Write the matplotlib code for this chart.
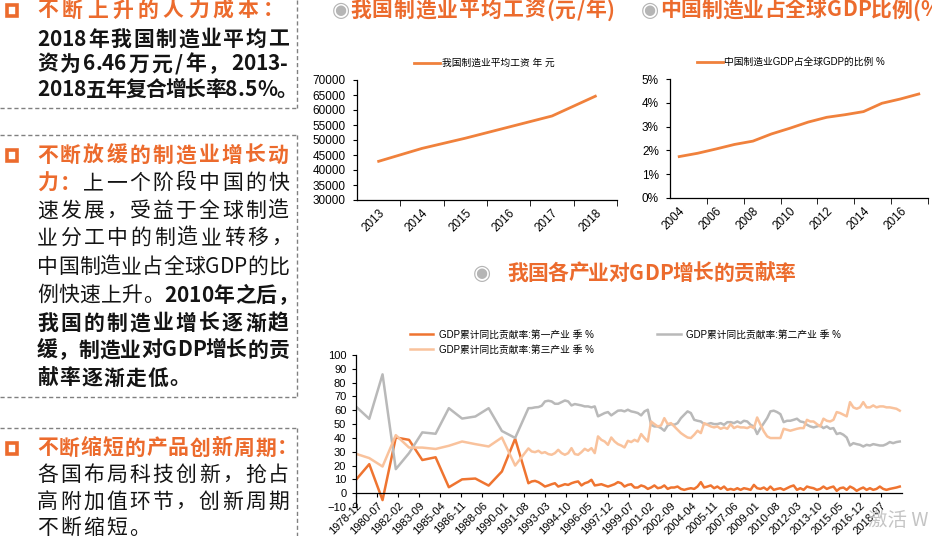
import datetime as dt
import matplotlib.pyplot as plt
from matplotlib.lines import Line2D
from matplotlib.patches import Rectangle

W, H = 932, 536
CJK = 'Noto Sans CJK SC'
plt.rcParams['font.family'] = ['Liberation Sans', CJK, 'DejaVu Sans']

ORANGE = '#EC6B2D'
LINE_ORANGE = '#F0813C'
DARK_ORANGE = '#EF7430'
GRAY = '#B9B9B9'
LIGHT = '#F9C29C'
TEXT = '#141414'

# ---- chart 1: average manufacturing wage (yuan / year)
wage_years = ['2013', '2014', '2015', '2016', '2017', '2018']
wage_values = [42900, 47200, 50600, 54300, 58000, 64600]

# ---- chart 2: China manufacturing share of global GDP (%)
share_years = ['2004', '2005', '2006', '2007', '2008', '2009', '2010',
               '2011', '2012', '2013', '2014', '2015', '2016', '2017']
share_values = [1.74, 1.88, 2.06, 2.25, 2.39, 2.69, 2.93,
                3.19, 3.39, 3.50, 3.63, 3.98, 4.16, 4.37]

# ---- chart 3: contribution to GDP growth by industry (%)
# annual values 1978-1991, then quarterly values 1992Q1-2019Q4
annual_years = list(range(1978, 1992))
primary_annual = [9.7, 21.0, -5.0, 40.3, 38.6, 24.0, 26.0, 4.3, 10.0, 10.6, 5.5, 15.7, 39.4, 7.2]
secondary_annual = [62.7, 53.8, 86.0, 17.4, 29.0, 44.0, 43.0, 61.5, 54.0, 55.5, 61.5, 45.0, 40.0, 61.5]
tertiary_annual = [28.5, 25.4, 19.3, 42.0, 33.0, 33.0, 32.0, 34.3, 37.4, 35.5, 33.8, 40.3, 20.0, 32.4]

primary_q = [
    8.5, 8.9, 8.0, 6.5, 4.8, 5.6, 6.5, 7.2, 4.8, 5.6, 6.5, 6.0, 7.2, 8.0, 8.5, 5.6,
    7.2, 8.0, 9.7, 5.6, 6.0, 6.5, 5.6, 4.8, 5.6, 6.5, 8.0,
    7.2, 4.8, 6.0, 6.5, 4.1, 4.1, 5.6, 4.8, 3.1, 4.1, 5.6, 3.6, 4.1, 5.6, 3.1, 4.1,
    4.1, 4.8, 3.1, 2.4, 3.1, 3.6, 3.1, 4.8, 8.0, 4.1, 4.8, 5.6, 3.6, 4.8,
    3.1, 4.8, 2.4, 3.1, 2.4, 3.6, 2.4, 3.6, 3.1, 2.4, 6.0, 3.6, 3.1, 4.1, 2.4, 4.8,
    2.4, 3.1, 3.6, 2.4, 3.6, 4.8, 5.6, 2.4, 3.6, 2.4, 4.8, 4.1,
    3.6, 2.4, 3.1, 4.8, 3.1, 4.1, 4.8, 1.7, 3.6, 4.1, 2.4, 4.8, 3.6, 1.7, 3.1, 4.1,
    2.4, 3.6, 2.4, 3.1, 4.8, 3.1, 2.4, 3.1, 3.6, 4.1, 4.8]
secondary_q = [
    61.6, 62.1, 62.3, 63.3, 66.4, 66.9, 66.4, 64.7, 64.7, 65.9, 67.1, 66.4, 63.5, 64.5,
    64.0, 63.5, 62.8, 62.8, 62.1, 62.8, 55.6, 56.8, 58.0, 58.7, 56.3, 58.0, 59.7,
    59.9, 59.2, 60.4, 59.2, 58.7, 58.0, 56.3, 59.2, 60.4, 49.5, 48.3, 48.3, 47.1, 45.2,
    49.0, 50.0, 49.5, 50.7, 54.3, 56.8, 59.2, 58.0, 53.1, 52.4, 51.9, 50.0, 50.0, 50.7,
    50.0, 50.0,
    50.7, 49.5, 51.4, 51.4, 50.7, 51.9, 50.7, 52.4, 51.9, 49.5, 48.3, 42.8, 47.1, 50.7,
    54.3, 59.2, 59.7, 58.7, 57.2, 51.4, 52.4, 52.4, 53.1, 53.9, 51.9, 51.4, 49.5, 48.3,
    47.6, 48.3, 49.0, 47.1, 48.3, 46.6, 47.1, 42.8, 43.5, 42.3, 40.3, 34.5, 36.2, 35.5,
    35.0, 33.8, 35.0, 34.5, 35.5, 35.0, 34.5, 34.5, 35.5, 37.0, 36.2, 37.0, 37.4]
tertiary_q = [
    30.2, 29.7, 30.7, 29.0, 29.7, 28.3, 27.8, 29.0, 31.4, 29.0, 27.8, 29.0, 32.6, 28.3,
    27.8, 29.7, 32.1, 30.7, 32.6, 29.0, 41.1, 38.6, 37.4, 35.0, 40.3, 37.4, 35.5,
    34.5, 33.1, 37.9, 37.0, 38.6, 37.4, 42.8, 39.9, 37.4, 51.9, 50.0, 48.3, 49.0, 54.3,
    50.0, 50.7, 48.3, 45.9, 43.5, 41.8, 40.3, 39.9, 42.3, 45.2, 43.5, 50.7, 49.5, 48.3,
    47.6, 48.3,
    46.6, 47.6, 46.6, 50.0, 47.1, 48.3, 47.6, 47.6, 47.1, 48.3, 47.1, 54.8, 49.5, 44.7,
    41.1, 39.9, 39.9, 39.9, 39.9, 46.6, 45.9, 45.2, 45.9, 46.6, 47.1, 47.1, 53.1, 51.9,
    51.9, 50.0, 48.3, 53.9, 52.4, 51.9, 53.1, 58.7, 58.0, 56.8, 55.6, 65.9, 62.1, 61.1,
    62.1, 65.9, 62.1, 62.1, 63.5, 62.1, 62.8, 62.8, 62.1, 62.1, 61.6, 61.1, 59.7]
quarter_years = list(range(1992, 2020))

gdp_tick_labels = ['1978-12', '1980-07', '1982-02', '1983-09', '1985-04', '1986-11',
                   '1988-06', '1990-01', '1991-08', '1993-03', '1994-10', '1996-05',
                   '1997-12', '1999-07', '2001-02', '2002-09', '2004-04', '2005-11',
                   '2007-06', '2009-01', '2010-08', '2012-03', '2013-10', '2015-05',
                   '2016-12', '2018-07']

# ---- left text panel: (y, [(text, colour, weight)], right edge)
panel_lines = [
    (10, [('不断上升的人力成本：', 'o', 'bold')], 284),
    (39, [('2018年我国制造业平均工', 'k', 'bold')], 289),
    (64, [('资为6.46万元/年，2013-', 'k', 'bold')], 288),
    (90, [('2018五年复合增长率8.5%。', 'k', 'bold')], 297),
    (155, [('不断放缓的制造业增长动', 'o', 'bold')], 289),
    (183, [('力：', 'o', 'bold'), ('上一个阶段中国的快', 'k', 'normal')], 289),
    (211, [('速发展，受益于全球制造', 'k', 'normal')], 289),
    (238, [('业分工中的制造业转移，', 'k', 'normal')], 292),
    (267, [('中国制造业占全球GDP的比', 'k', 'normal')], 289),
    (295, [('例快速上升。', 'k', 'normal'), ('2010年之后，', 'k', 'bold')], 298),
    (323, [('我国的制造业增长逐渐趋', 'k', 'bold')], 289),
    (350, [('缓，制造业对GDP增长的贡', 'k', 'bold')], 289),
    (378, [('献率逐渐走低。', 'k', 'bold')], 190),
    (448, [('不断缩短的产品创新周期：', 'o', 'bold')], 298),
    (475, [('各国布局科技创新，抢占', 'k', 'normal')], 289),
    (502, [('高附加值环节，创新周期', 'k', 'normal')], 289),
    (528, [('不断缩短。', 'k', 'normal')], 150),
]
bullet_rows = [10, 155, 448]


def fx(x):
    return x / W


def fy(y):
    return 1 - y / H


fig = plt.figure(figsize=(W / 100, H / 100), dpi=100)
renderer = fig.canvas.get_renderer()
width_cache = {}


def char_width(ch, weight, size):
    key = (ch, weight, size)
    if key not in width_cache:
        t = fig.text(0, 0, ch, fontsize=size, family=CJK, weight=weight)
        width_cache[key] = t.get_window_extent(renderer=renderer).width
        t.remove()
    return width_cache[key]


def draw_line(y, segments, x0, right, size=15):
    colours = {'o': ORANGE, 'k': TEXT}
    chars = [(c, colours.get(col, col), wt) for text, col, wt in segments for c in text]
    widths = [char_width(c, wt, size) for c, _, wt in chars]
    wide = [ord(c) > 0x2000 for c, _, _ in chars]
    gaps = [wide[i] or wide[i + 1] for i in range(len(chars) - 1)]
    extra = (right - x0 - sum(widths)) / max(sum(gaps), 1)
    x = x0
    for i, ((c, col, wt), w) in enumerate(zip(chars, widths)):
        fig.text(fx(x), fy(y), c, color=col, fontsize=size, family=CJK,
                 weight=wt, ha='left', va='center')
        x += w
        if i < len(gaps) and gaps[i]:
            x += extra


# left panel text
for y, segs, right in panel_lines:
    draw_line(y, segs, 37, right)
for y in bullet_rows:
    fig.add_artist(Rectangle((fx(6.5), fy(y + 5.5)), 10.5 / W, 10.5 / H,
                             transform=fig.transFigure, facecolor='white',
                             edgecolor=ORANGE, lw=2.6))


def dashed(x0, y0, x1, y1):
    fig.add_artist(Line2D([fx(x0), fx(x1)], [fy(y0), fy(y1)], transform=fig.transFigure,
                          color='#808080', lw=1, linestyle=(0, (3, 2))))


dashed(0, 108, 297, 108)
dashed(297, 0, 297, 108)
dashed(0, 135, 297, 135)
dashed(297, 135, 297, 397)
dashed(0, 397, 297, 397)
dashed(0, 428, 297, 428)
dashed(297, 428, 297, 536)

# chart titles
for cx, cy, x0, right, title in [(341, 10, 350, 615, '我国制造业平均工资(元/年)'),
                                 (650, 10, 660, 948, '中国制造业占全球GDP比例(%)'),
                                 (482, 273, 507, 795, '我国各产业对GDP增长的贡献率')]:
    fig.text(fx(cx), fy(cy), '◉', family='DejaVu Sans', fontsize=15, color='#B5B5B5',
             ha='center', va='center')
    draw_line(cy, [(title, 'o', 'bold')], x0, right)


def add_axes(left, top, right, bottom):
    ax = fig.add_axes([fx(left), fy(bottom), (right - left) / W, (bottom - top) / H])
    for side in ['top', 'right']:
        ax.spines[side].set_visible(False)
    for side in ['left', 'bottom']:
        ax.spines[side].set_linewidth(0.9)
    return ax


def category_axis(ax, labels, step):
    pos = list(range(len(labels)))
    ax.set_xlim(-0.5, len(labels) - 0.5)
    ax.set_xticks(pos[::step])
    ax.set_xticklabels(labels[::step], rotation=45, ha='right', va='top',
                       rotation_mode='anchor', fontsize=8.5)
    ax.tick_params(axis='x', which='major', length=0, pad=5)
    ax.set_xticks([p + step - 0.5 for p in pos[::step]], minor=True)
    ax.tick_params(axis='x', which='minor', length=4, direction='out')
    ax.tick_params(axis='y', length=3, labelsize=8.5, pad=5)
    return pos


# chart 1
ax1 = add_axes(357, 80, 617, 200)
pos = category_axis(ax1, wage_years, 1)
ax1.plot(pos, wage_values, color=LINE_ORANGE, lw=2, label='我国制造业平均工资 年 元')
ax1.set_ylim(30000, 70000)
ax1.set_yticks(range(30000, 70001, 5000))
ax1.legend(loc='center', bbox_to_anchor=(0.49, 1.14), frameon=False, fontsize=7,
           handlelength=2.6, handletextpad=0.2, borderpad=0)

# chart 2
ax2 = add_axes(670, 79, 928, 198)
pos = category_axis(ax2, share_years, 2)
ax2.plot(pos, share_values, color=LINE_ORANGE, lw=2, label='中国制造业GDP占全球GDP的比例 %')
ax2.set_ylim(0, 5)
ax2.set_yticks(range(0, 6))
ax2.set_yticklabels([f'{v}%' for v in range(0, 6)])
ax2.legend(loc='center', bbox_to_anchor=(0.47, 1.14), frameon=False, fontsize=7,
           handlelength=2.6, handletextpad=0.2, borderpad=0)

# chart 3
dates = [dt.date(y, 12, 1) for y in annual_years]
dates += [dt.date(y, m, 1) for y in quarter_years for m in (3, 6, 9, 12)]
primary = primary_annual + primary_q
secondary = secondary_annual + secondary_q
tertiary = tertiary_annual + tertiary_q

ax3 = add_axes(356, 355, 902, 507)
ax3.spines['bottom'].set_position(('data', 0))
h1, = ax3.plot(dates, primary, color=DARK_ORANGE, lw=1.8, label='GDP累计同比贡献率:第一产业 季 %')
h2, = ax3.plot(dates, secondary, color=GRAY, lw=1.8, label='GDP累计同比贡献率:第二产业 季 %')
h3, = ax3.plot(dates, tertiary, color=LIGHT, lw=1.8, label='GDP累计同比贡献率:第三产业 季 %')
ax3.set_ylim(-10, 100)
ax3.set_yticks(range(-10, 101, 10))
ax3.set_xlim(dt.date(1978, 12, 1), dt.date(2020, 2, 1))
tick_dates = [dt.date(int(s[:4]), int(s[5:]), 1) for s in gdp_tick_labels]
ax3.set_xticks(tick_dates)
ax3.set_xticklabels(gdp_tick_labels, rotation=45, ha='right', va='top',
                    rotation_mode='anchor', fontsize=8)
ax3.tick_params(axis='x', length=3, pad=2)
ax3.tick_params(axis='y', length=3, labelsize=8, pad=4)
ax3.legend(handles=[h1, h3, h2], ncol=2, loc='upper left', bbox_to_anchor=(0.09, 1.2),
           frameon=False, fontsize=7, handlelength=2.4, handletextpad=0.6,
           columnspacing=6.5, labelspacing=0.5, borderpad=0)

# faint system watermark at the lower right of the screenshot
fig.text(fx(868), fy(520), '激活 W', family=[CJK, 'DejaVu Sans'], fontsize=14,
         color='#C4C4C4', ha='left', va='center')

fig.savefig('out.png', dpi=100)
